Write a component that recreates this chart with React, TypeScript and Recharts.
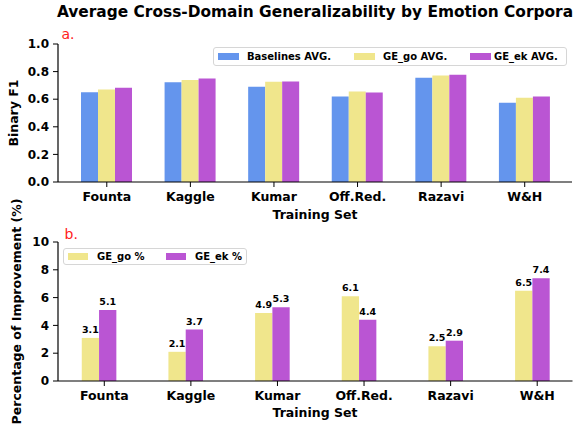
import React from 'react';
import { BarChart, Bar, XAxis, YAxis, Legend, LabelList } from 'recharts';

const categories = ['Founta', 'Kaggle', 'Kumar', 'Off.Red.', 'Razavi', 'W&H'];
const baselineAvg = [0.65, 0.722, 0.69, 0.62, 0.755, 0.575];
const geGoAvg = [0.67, 0.74, 0.727, 0.656, 0.772, 0.611];
const geEkAvg = [0.683, 0.75, 0.729, 0.648, 0.778, 0.619];
const geGoPct = [3.1, 2.1, 4.9, 6.1, 2.5, 6.5];
const geEkPct = [5.1, 3.7, 5.3, 4.4, 2.9, 7.4];
const f1Ticks = [0, 0.2, 0.4, 0.6, 0.8, 1.0];
const pctTicks = [0, 2, 4, 6, 8, 10];

const BLUE = '#6495ED';
const KHAKI = '#F0E68C';
const ORCHID = '#BA55D3';
const FONT = 'DejaVu Sans, Verdana, sans-serif';

const topData = categories.map((c, i) => ({ name: c, base: baselineAvg[i], go: geGoAvg[i], ek: geEkAvg[i] }));
const botData = categories.map((c, i) => ({ name: c, go: geGoPct[i], ek: geEkPct[i] }));

const tickStyle = { fontSize: 12, fontWeight: 'bold', fill: '#000', fontFamily: FONT };
const xTickStyle = { fontSize: 12.5, fontWeight: 'bold', fill: '#000', fontFamily: FONT };

type Item = { color: string; label: string; patchX: number; textX: number };

const makeLegend = (items: Item[], w: number, h: number, patchW: number, fs: number) => () => (
  <div
    style={{
      position: 'relative',
      width: w,
      height: h,
      boxSizing: 'border-box',
      border: '1px solid #d6d6d6',
      borderRadius: 3,
      background: 'rgba(255,255,255,0.85)',
      fontFamily: FONT,
      fontWeight: 'bold',
      fontSize: fs,
    }}
  >
    {items.map((it) => (
      <React.Fragment key={it.label}>
        <div
          style={{
            position: 'absolute',
            left: it.patchX,
            top: (h - 2) / 2 - 3.5,
            width: patchW,
            height: 7,
            background: it.color,
          }}
        />
        <div
          style={{
            position: 'absolute',
            left: it.textX,
            top: 0,
            height: h - 2,
            lineHeight: `${h - 2}px`,
            whiteSpace: 'nowrap',
            color: '#000',
          }}
        >
          {it.label}
        </div>
      </React.Fragment>
    ))}
  </div>
);

const TopLegend = makeLegend(
  [
    { color: BLUE, label: 'Baselines AVG.', patchX: 4, textX: 33 },
    { color: KHAKI, label: 'GE_go AVG.', patchX: 140, textX: 169 },
    { color: ORCHID, label: 'GE_ek AVG.', patchX: 256, textX: 280 },
  ],
  354,
  19,
  21,
  10
);

const BotLegend = makeLegend(
  [
    { color: KHAKI, label: 'GE_go %', patchX: 4, textX: 33 },
    { color: ORCHID, label: 'GE_ek %', patchX: 102, textX: 131 },
  ],
  184,
  17,
  20,
  10
);

export default function App() {
  return (
    <div
      style={{
        position: 'absolute',
        left: 0,
        top: 0,
        width: 574,
        height: 430,
        background: '#fff',
        fontFamily: FONT,
        overflow: 'hidden',
      }}
    >
      <div style={{ position: 'absolute', left: 0, top: 0 }}>
        <BarChart
          width={574}
          height={230}
          data={topData}
          margin={{ top: 44, right: 2, bottom: 0, left: 0 }}
          barGap={0}
        >
          <XAxis
            xAxisId="main"
            dataKey="name"
            height={48}
            padding={{ left: 7, right: 5.5 }}
            tick={xTickStyle}
            tickSize={5}
            tickMargin={5}
            axisLine={{ stroke: '#000', strokeWidth: 1.2 }}
            tickLine={{ stroke: '#000' }}
            interval={0}
          />
          <XAxis
            xAxisId="top"
            dataKey="name"
            orientation="top"
            height={0}
            tick={false}
            tickLine={false}
            axisLine={{ stroke: '#000', strokeWidth: 1.2 }}
          />
          <YAxis
            yAxisId="left"
            width={58}
            domain={[0, 1]}
            ticks={f1Ticks}
            tickFormatter={(v: number) => v.toFixed(1)}
            tick={tickStyle}
            tickSize={5}
            tickMargin={4}
            axisLine={{ stroke: '#000', strokeWidth: 1.2 }}
            tickLine={{ stroke: '#000' }}
            interval={0}
          />
          <YAxis
            yAxisId="right"
            orientation="right"
            width={0}
            domain={[0, 1]}
            tick={false}
            tickLine={false}
            axisLine={{ stroke: '#000', strokeWidth: 1.2 }}
          />
          <Legend
            layout="horizontal"
            verticalAlign="middle"
            align="center"
            content={TopLegend}
            wrapperStyle={{ position: 'absolute', left: 213, top: 47, width: 354, height: 19 }}
          />
          <Bar xAxisId="main" yAxisId="left" dataKey="base" fill={BLUE} barSize={17} isAnimationActive={false} />
          <Bar xAxisId="main" yAxisId="left" dataKey="go" fill={KHAKI} barSize={17} isAnimationActive={false} />
          <Bar xAxisId="main" yAxisId="left" dataKey="ek" fill={ORCHID} barSize={17} isAnimationActive={false} />
        </BarChart>
      </div>

      <div style={{ position: 'absolute', left: 0, top: 230 }}>
        <BarChart
          width={574}
          height={200}
          data={botData}
          margin={{ top: 12, right: 1.5, bottom: 0, left: 0 }}
          barGap={0}
        >
          <XAxis
            xAxisId="ticks"
            dataKey="name"
            height={49}
            padding={{ left: 3, right: -8 }}
            tick={xTickStyle}
            tickSize={5}
            tickMargin={5}
            axisLine={{ stroke: '#000', strokeWidth: 1.2 }}
            tickLine={{ stroke: '#000' }}
            interval={0}
          />
          <XAxis xAxisId="bars" dataKey="name" hide height={0} padding={{ left: -2.25, right: -3.25 }} />
          <XAxis
            xAxisId="top"
            dataKey="name"
            orientation="top"
            height={0}
            tick={false}
            tickLine={false}
            axisLine={{ stroke: '#000', strokeWidth: 1.2 }}
          />
          <YAxis
            yAxisId="left"
            width={58}
            domain={[0, 10]}
            ticks={pctTicks}
            tick={tickStyle}
            tickSize={5}
            tickMargin={4}
            axisLine={{ stroke: '#000', strokeWidth: 1.2 }}
            tickLine={{ stroke: '#000' }}
            interval={0}
          />
          <YAxis
            yAxisId="right"
            orientation="right"
            width={0}
            domain={[0, 10]}
            tick={false}
            tickLine={false}
            axisLine={{ stroke: '#000', strokeWidth: 1.2 }}
          />
          <Legend
            layout="horizontal"
            verticalAlign="middle"
            align="center"
            content={BotLegend}
            wrapperStyle={{ position: 'absolute', left: 63, top: 17.5, width: 184, height: 17 }}
          />
          <Bar xAxisId="bars" yAxisId="left" dataKey="go" fill={KHAKI} barSize={17.3} isAnimationActive={false}>
            <LabelList
              dataKey="go"
              position="top"
              offset={5}
              style={{ fontSize: 9.5, fontWeight: 'bold', fill: '#000', fontFamily: FONT }}
            />
          </Bar>
          <Bar xAxisId="bars" yAxisId="left" dataKey="ek" fill={ORCHID} barSize={17.3} isAnimationActive={false}>
            <LabelList
              dataKey="ek"
              position="top"
              offset={5}
              style={{ fontSize: 9.5, fontWeight: 'bold', fill: '#000', fontFamily: FONT }}
            />
          </Bar>
        </BarChart>
      </div>

      <svg
        width={574}
        height={430}
        style={{ position: 'absolute', left: 0, top: 0, pointerEvents: 'none' }}
        fontFamily={FONT}
      >
        <text x={315} y={17} textAnchor="middle" fontSize={15.4} fontWeight="bold" fill="#000">
          Average Cross-Domain Generalizability by Emotion Corpora
        </text>
        <text x={61.5} y={39} fontSize={14} fill="#ff2020">
          a.
        </text>
        <text x={64.5} y={238.5} fontSize={14} fill="#ff2020">
          b.
        </text>
        <text x={315} y={218.5} textAnchor="middle" fontSize={12.5} fontWeight="bold" fill="#000">
          Training Set
        </text>
        <text x={315} y={416.5} textAnchor="middle" fontSize={12.5} fontWeight="bold" fill="#000">
          Training Set
        </text>
        <text
          x={17.5}
          y={113}
          transform="rotate(-90 17.5 113)"
          textAnchor="middle"
          fontSize={12.5}
          fontWeight="bold"
          fill="#000"
        >
          Binary F1
        </text>
        <text
          x={21}
          y={311.5}
          transform="rotate(-90 21 311.5)"
          textAnchor="middle"
          fontSize={12.5}
          fontWeight="bold"
          fill="#000"
        >
          Percentage of Improvement (%)
        </text>
      </svg>
    </div>
  );
}
